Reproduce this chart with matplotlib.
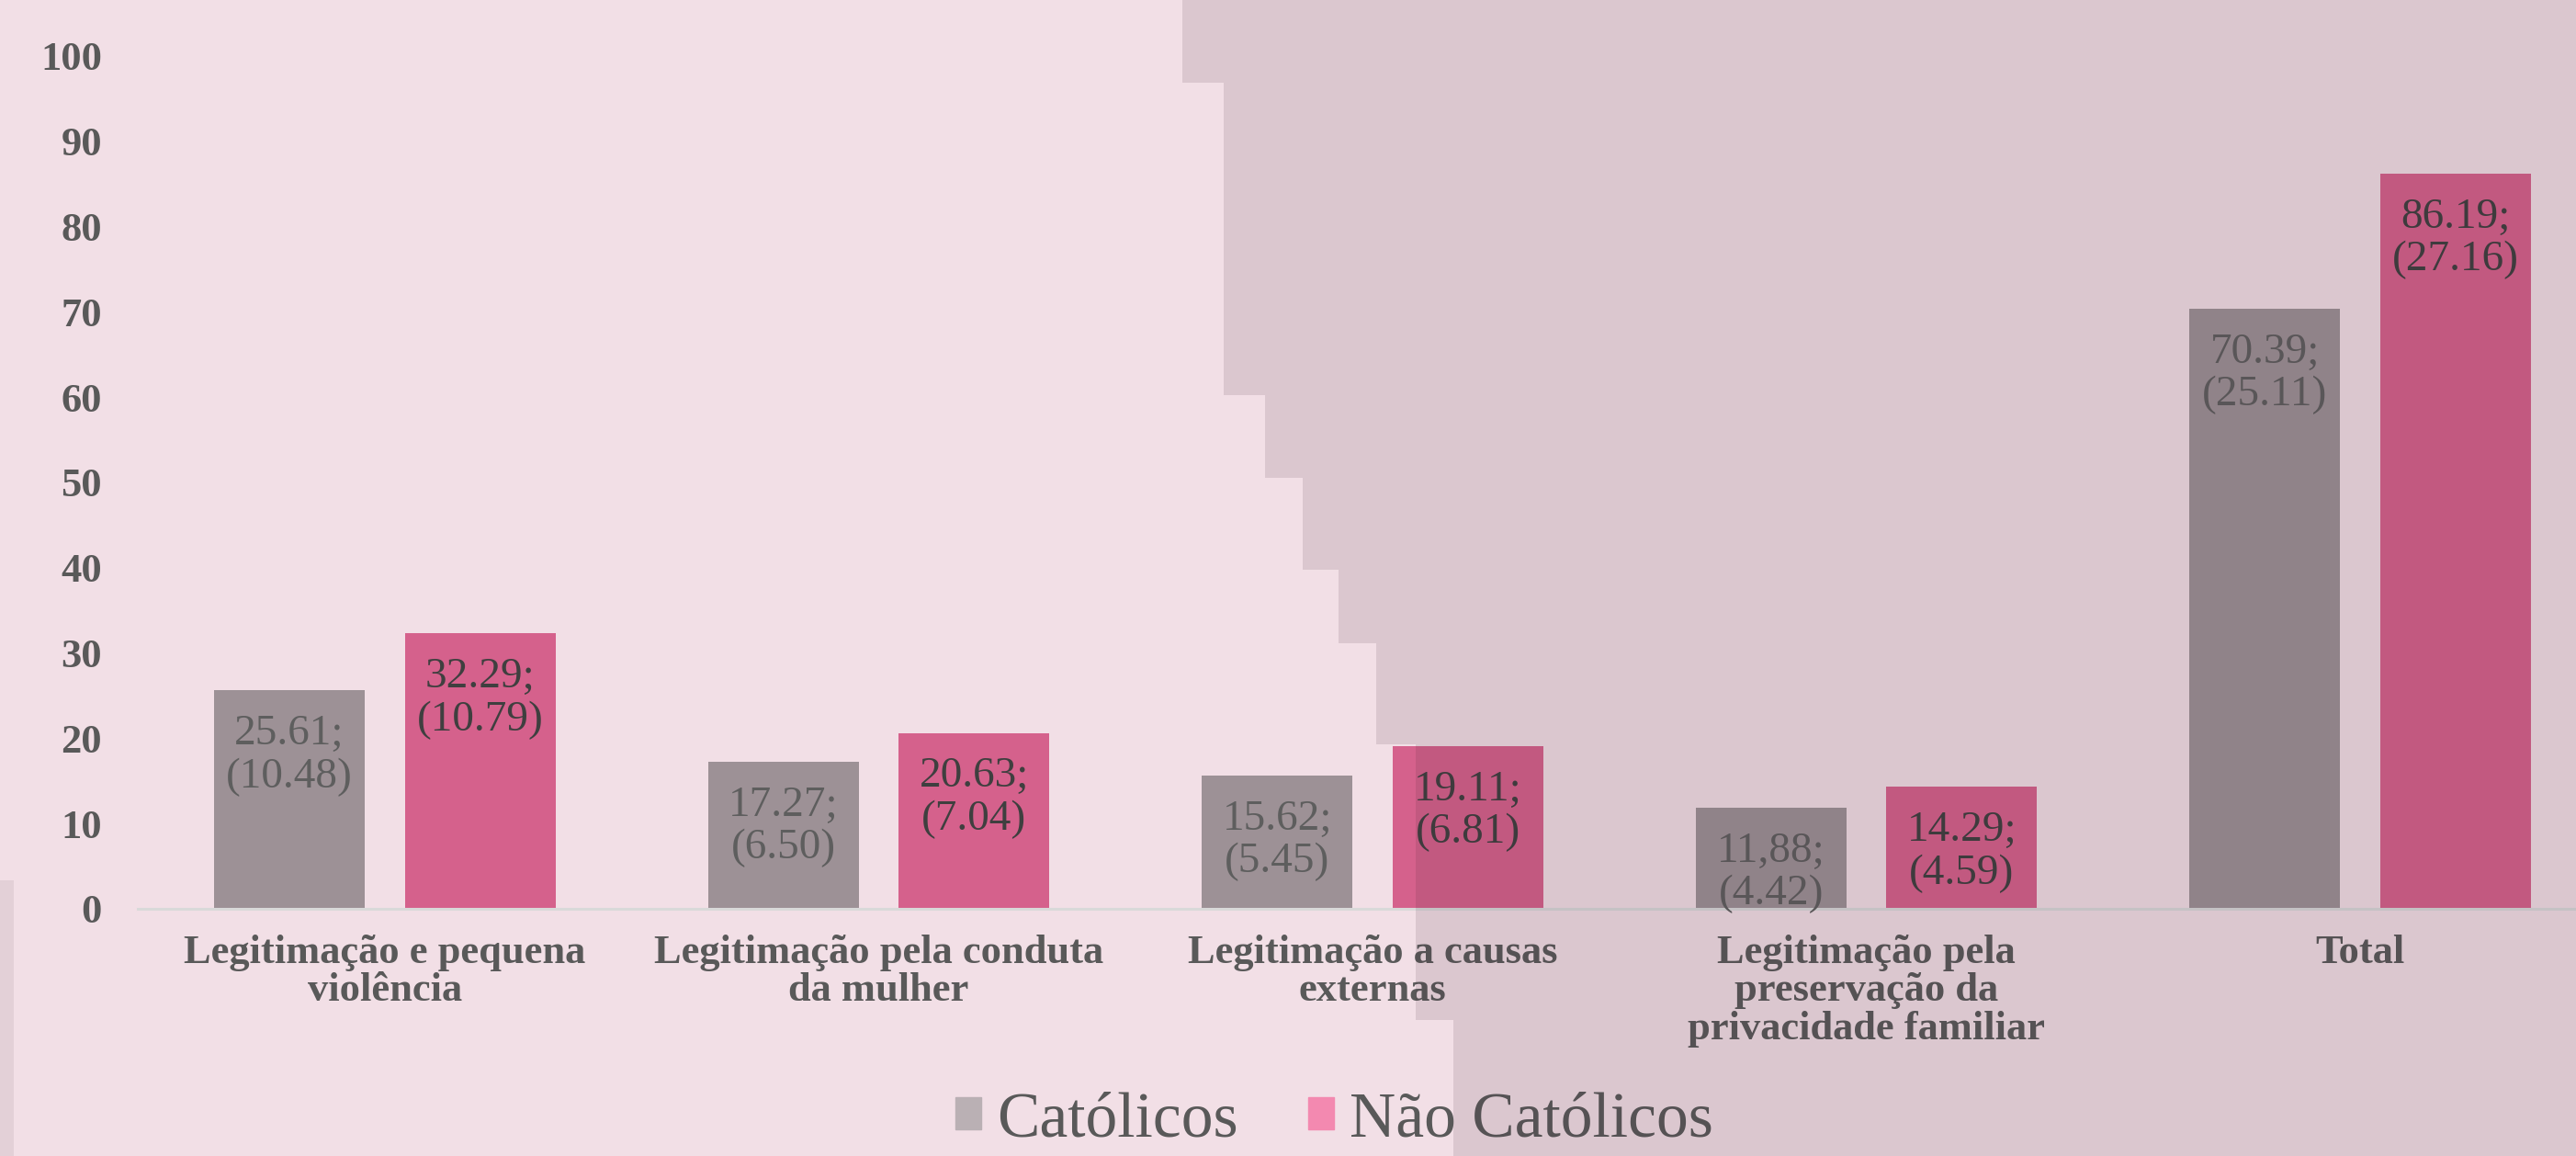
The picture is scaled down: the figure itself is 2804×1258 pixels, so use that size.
import matplotlib
matplotlib.use("Agg")
import matplotlib.pyplot as plt
from matplotlib.patches import Polygon, Rectangle, Patch
import numpy as np

# data
categories = ["Legitimação e pequena\nviolência",
              "Legitimação pela conduta\nda mulher",
              "Legitimação a causas\nexternas",
              "Legitimação pela\npreservação da\nprivacidade familiar",
              "Total"]
catolicos = [25.61, 17.27, 15.62, 11.88, 70.39]
nao_catolicos = [32.29, 20.63, 19.11, 14.29, 86.19]
catolicos_labels = ["25.61;\n(10.48)", "17.27;\n(6.50)", "15.62;\n(5.45)",
                    "11,88;\n(4.42)", "70.39;\n(25.11)"]
nao_catolicos_labels = ["32.29;\n(10.79)", "20.63;\n(7.04)", "19.11;\n(6.81)",
                        "14.29;\n(4.59)", "86.19;\n(27.16)"]
series_names = ["Católicos", "Não Católicos"]

W, H = 2804, 1258
plt.rcParams['font.family'] = ['Liberation Serif', 'DejaVu Serif']

fig = plt.figure(figsize=(W / 100, H / 100), dpi=100, facecolor='#f2dfe6')
ax = fig.add_axes([150 / W, (H - 989) / H, 2688 / W, 928 / H])
ax.patch.set_visible(False)

x = np.arange(len(categories))
bw = 0.305
off = 0.193
b1 = ax.bar(x - off, catolicos, bw, color='#9d9196', zorder=2)
b2 = ax.bar(x + off, nao_catolicos, bw, color='#d5618c', zorder=2)

for bars, labs, col in [(b1, catolicos_labels, '#5e5e5e'),
                        (b2, nao_catolicos_labels, '#3f3f3f')]:
    for r, lab in zip(bars, labs):
        ax.annotate(lab, (r.get_x() + r.get_width() / 2, r.get_height()),
                    xytext=(0, -19), textcoords='offset points',
                    ha='center', va='top', fontsize=34, color=col,
                    linespacing=1.12, zorder=3)

ax.set_xlim(-0.5, 4.5)
ax.set_ylim(0, 100)
ax.set_yticks(range(0, 101, 10))
ax.set_xticks(x)
ax.set_xticklabels(categories, fontsize=32, fontweight='bold', color='#595959',
                   linespacing=1.05)
for t in ax.get_yticklabels():
    t.set_fontsize(32)
    t.set_fontweight('bold')
    t.set_color('#595959')
ax.tick_params(axis='y', length=0, pad=28)
ax.tick_params(axis='x', length=0, pad=20)
for s in ['top', 'right', 'left']:
    ax.spines[s].set_visible(False)
ax.spines['bottom'].set_color('#d9d9d9')
ax.spines['bottom'].set_linewidth(2.2)

handles = [Patch(color='#bab0b4'), Patch(color='#f389b0')]
fig.legend(handles, series_names, loc='lower center',
           bbox_to_anchor=(0.518, 0.0), borderaxespad=0.05, borderpad=0.05,
           ncol=2, frameon=False, fontsize=50, labelcolor='#595959',
           handlelength=0.4, handleheight=0.4, handletextpad=0.25,
           columnspacing=1.1)

# darker pixelated right half of the background, drawn over everything
stair = [(1287, 0), (1287, 90), (1332, 90), (1332, 430), (1377, 430),
         (1377, 520), (1418, 520), (1418, 620), (1457, 620), (1457, 700),
         (1498, 700), (1498, 810), (1541, 810), (1541, 1110), (1582, 1110),
         (1582, H), (W, H), (W, 0)]
poly = Polygon([(px / W, 1 - py / H) for px, py in stair], closed=True,
               transform=fig.transFigure, facecolor='#3a2030', alpha=0.12,
               edgecolor='none', zorder=10)
fig.add_artist(poly)
strip = Rectangle((0, 0), 15 / W, 300 / H, transform=fig.transFigure,
                  facecolor='#3a2030', alpha=0.08, edgecolor='none', zorder=10)
fig.add_artist(strip)

fig.savefig('out.png', dpi=100, facecolor=fig.get_facecolor())
